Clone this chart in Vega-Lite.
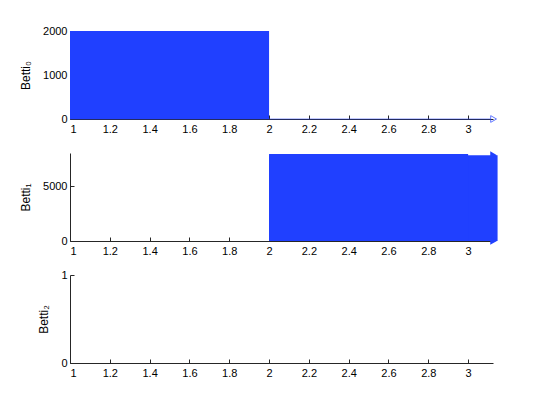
{
  "$schema": "https://vega.github.io/schema/vega-lite/v6.json",
  "padding": {"left": 19, "top": 25, "right": 10, "bottom": 10},
  "background": "white",
  "config": {
    "view": {"stroke": null},
    "font": "Liberation Sans",
    "axis": {
      "grid": false,
      "domainColor": "#262626",
      "tickColor": "#262626",
      "labelColor": "#000000",
      "titleColor": "#000000",
      "labelFont": "Liberation Sans",
      "titleFont": "Liberation Sans",
      "labelFontSize": 11,
      "titleFontSize": 12,
      "titleFontWeight": "normal",
      "tickSize": -4,
      "domainWidth": 1
    },
    "axisX": {"labelPadding": 8, "format": "~g"},
    "axisY": {"labelPadding": 7, "titlePadding": 10, "format": "d"}
  },
  "datasets": {
    "b0_bars": [{"birth": 1, "death": 2, "lo": 0, "hi": 2000}],
    "b0_inf": [{"birth": 1, "death": 3.112, "y": 0, "tip": 3.128}],
    "b1_bars": [
      {"birth": 2, "death": 3.148, "lo": 0, "hi": 7800},
      {"birth": 2, "death": 3.0, "lo": 0, "hi": 7900}
    ],
    "b1_inf": [{"y": 7800, "tip": 3.128}, {"y": 0, "tip": 3.128}],
    "b2_bars": [{"birth": 1, "death": 1, "lo": 0, "hi": 0}]
  },
  "vconcat": [
    {
      "width": 423,
      "height": 88,
      "layer": [
        {
          "data": {"name": "b0_bars"},
          "mark": {"type": "rect", "color": "#2040ff"},
          "encoding": {
            "x": {"field": "birth", "type": "quantitative", "scale": {"domain": [1, 3.125], "nice": false, "zero": false}, "axis": {"values": [1, 1.2, 1.4, 1.6, 1.8, 2, 2.2, 2.4, 2.6, 2.8, 3], "title": null}},
            "x2": {"field": "death"},
            "y": {"field": "lo", "type": "quantitative", "scale": {"domain": [0, 2000], "nice": false}, "axis": {"values": [0, 1000, 2000], "title": "Betti₀"}},
            "y2": {"field": "hi"}
          }
        },
        {
          "data": {"name": "b0_inf"},
          "mark": {"type": "rule", "color": "#2040ff", "strokeWidth": 1, "opacity": 0.55},
          "encoding": {
            "x": {"field": "birth", "type": "quantitative"},
            "x2": {"field": "death"},
            "y": {"field": "y", "type": "quantitative"}
          }
        },
        {
          "data": {"name": "b0_inf"},
          "mark": {"type": "point", "shape": "triangle-right", "filled": false, "color": "#2040ff", "size": 45, "strokeWidth": 1, "opacity": 0.7},
          "encoding": {
            "x": {"field": "tip", "type": "quantitative"},
            "y": {"field": "y", "type": "quantitative"}
          }
        }
      ]
    },
    {
      "width": 423,
      "height": 88,
      "layer": [
        {
          "data": {"name": "b1_bars"},
          "mark": {"type": "rect", "color": "#2040ff"},
          "encoding": {
            "x": {"field": "birth", "type": "quantitative", "scale": {"domain": [1, 3.125], "nice": false, "zero": false}, "axis": {"values": [1, 1.2, 1.4, 1.6, 1.8, 2, 2.2, 2.4, 2.6, 2.8, 3], "title": null}},
            "x2": {"field": "death"},
            "y": {"field": "lo", "type": "quantitative", "scale": {"domain": [0, 8000], "nice": false}, "axis": {"values": [0, 5000], "title": "Betti₁"}},
            "y2": {"field": "hi"}
          }
        },
        {
          "data": {"name": "b1_inf"},
          "mark": {"type": "point", "shape": "triangle-right", "filled": true, "color": "#2040ff", "size": 60, "opacity": 1},
          "encoding": {
            "x": {"field": "tip", "type": "quantitative"},
            "y": {"field": "y", "type": "quantitative"}
          }
        }
      ]
    },
    {
      "width": 423,
      "height": 88,
      "data": {"name": "b2_bars"},
      "mark": {"type": "rect", "color": "#2040ff", "opacity": 0},
      "encoding": {
        "x": {"field": "birth", "type": "quantitative", "scale": {"domain": [1, 3.125], "nice": false, "zero": false}, "axis": {"values": [1, 1.2, 1.4, 1.6, 1.8, 2, 2.2, 2.4, 2.6, 2.8, 3], "title": null}},
        "x2": {"field": "death"},
        "y": {"field": "lo", "type": "quantitative", "scale": {"domain": [0, 1], "nice": false}, "axis": {"values": [0, 1], "title": "Betti₂"}},
        "y2": {"field": "hi"}
      }
    }
  ],
  "spacing": 34,
  "bounds": "flush"
}
